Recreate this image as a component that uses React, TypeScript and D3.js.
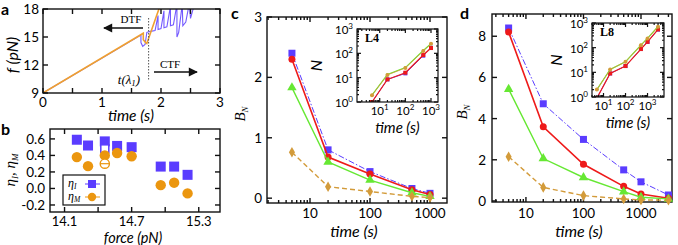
import * as d3 from "d3";

const SANS = "Lato, 'Open Sans', sans-serif";
const SERIF = "'Liberation Serif', 'DejaVu Serif', serif";
const BLUE = "#5a3cff";
const RED = "#ee1a1a";
const GREEN = "#66e833";
const GOLD = "#d39b3a";
const ORANGE = "#eb960f";

// panel a: force ramps
const orangeTime = [0, 1.7, 1.7, 1.74, 1.76, 2.02];
const orangeForce = [9, 15.4, 14.7, 14.4, 14.3, 19];
const blueTime = [0, 1.66, 1.66, 1.69, 1.73, 1.76, 1.82, 1.9, 1.95, 1.95, 2.0, 2.05, 2.05, 2.1, 2.16, 2.16, 2.21, 2.27, 2.27, 2.3, 2.36, 2.37, 2.42, 2.48, 2.5, 2.58];
const blueForce = [9, 15.2, 14.4, 14.0, 14.2, 15.5, 15.6, 15.7, 17.3, 15.8, 15.9, 17.8, 16.0, 16.1, 18.3, 16.2, 16.3, 18.5, 15.0, 15.5, 18.5, 16.2, 16.6, 18.6, 17.0, 18.8];

// panel b: efficiencies vs force
const bForce = [14.21, 14.31, 14.46, 14.57, 14.7, 14.96, 15.08, 15.2];
const etaI = [0.59, 0.52, 0.57, 0.515, 0.5, 0.265, 0.265, 0.165];
const etaM = [0.38, 0.27, 0.4, 0.43, 0.39, 0.04, 0.07, -0.06];
const openForce = [14.46];
const openEtaI = [0.48];
const openEtaM = [0.3];

// panel c (L4)
const cTimes = [5, 20, 100, 500, 1000];
const cBlue = [2.4, 0.8, 0.44, 0.16, 0.08];
const cRed = [2.3, 0.68, 0.4, 0.14, 0.06];
const cGreen = [1.83, 0.6, 0.3, 0.09, 0.03];
const cGold = [0.76, 0.19, 0.11, 0.03, 0.01];
const ciBlue = [1, 8.5, 15, 80, 170];
const ciRed = [1, 8.5, 16, 85, 165];
const ciGreen = [1.9, 13.5, 26, 130, 250];
const ciGold = [1.9, 13, 25, 125, 245];

// panel d (L8)
const dTimes = [5, 20, 100, 500, 1000, 3000];
const dBlue = [8.4, 4.72, 2.99, 1.51, 0.93, 0.29];
const dRed = [8.2, 3.6, 1.78, 0.71, 0.34, 0.13];
const dGreen = [5.43, 2.06, 1.14, 0.45, 0.18, 0.1];
const dGold = [2.15, 0.66, 0.26, 0.1, 0.05, 0.04];
const diBlue = [0.9, 9, 18, 88, 170, 540];
const diRed = [0.9, 9, 18, 88, 173, 550];
const diGreen = [2, 13, 27, 127, 240, 720];
const diGold = [2, 13, 27, 125, 237, 710];

type Tk = { v: number; major: boolean };

function logTicks(dom: number[]): Tk[] {
  const out: Tk[] = [];
  for (let e = Math.floor(Math.log10(dom[0])); e <= Math.ceil(Math.log10(dom[1])); e++)
    for (let m = 1; m <= 9; m++) {
      const v = m * 10 ** e;
      if (v >= dom[0] && v <= dom[1]) out.push({ v, major: m === 1 });
    }
  return out;
}

function linTicks(vals: number[]): Tk[] {
  return vals.map((v) => ({ v, major: true }));
}

function Frame({ sx, sy, xt, yt, maj = 5, min = 3, sw = 1.4 }: any) {
  const [l, r] = sx.range();
  const [b, t] = sy.range();
  return (
    <g stroke="#111" strokeWidth={sw} fill="none">
      {xt.map((d: Tk, i: number) => {
        const x = sx(d.v);
        const len = d.major ? maj : min;
        return (
          <g key={"x" + i}>
            <line x1={x} x2={x} y1={b} y2={b - len} />
            <line x1={x} x2={x} y1={t} y2={t + len} />
          </g>
        );
      })}
      {yt.map((d: Tk, i: number) => {
        const y = sy(d.v);
        const len = d.major ? maj : min;
        return (
          <g key={"y" + i}>
            <line x1={l} x2={l + len} y1={y} y2={y} />
            <line x1={r} x2={r - len} y1={y} y2={y} />
          </g>
        );
      })}
      <rect x={l} y={t} width={r - l} height={b - t} />
    </g>
  );
}

function Pow({ x, y, e, anchor = "middle", fs = 11.5 }: any) {
  return (
    <text x={x} y={y} textAnchor={anchor} fontSize={fs} fontFamily={SANS}>
      10<tspan dy={-5} fontSize={fs * 0.7}>{e}</tspan>
    </text>
  );
}

function Marker({ kind, x, y, color, s }: any) {
  if (kind === "square")
    return <rect x={x - s / 2} y={y - s / 2} width={s} height={s} fill={color} />;
  if (kind === "circle") return <circle cx={x} cy={y} r={s / 2} fill={color} />;
  const sym = kind === "triangle" ? d3.symbolTriangle : d3.symbolDiamond;
  const area = kind === "triangle" ? s * s * 0.6 : s * s * 0.5;
  return <path d={d3.symbol(sym, area)() as string} transform={`translate(${x},${y})`} fill={color} />;
}

function Series({ sx, sy, xs, ys, color, kind, s, width = 1.4, dash, clip }: any) {
  const line = d3.line<number>().x((_, i) => sx(xs[i])).y((v) => sy(v));
  return (
    <g clipPath={clip}>
      <path d={line(ys) as string} fill="none" stroke={color} strokeWidth={width} strokeDasharray={dash} />
      {ys.map((v: number, i: number) => (
        <Marker key={i} kind={kind} x={sx(xs[i])} y={sy(v)} color={color} s={s} />
      ))}
    </g>
  );
}

function PanelA() {
  const sx = d3.scaleLinear().domain([0, 3]).range([43, 220]);
  const sy = d3.scaleLinear().domain([9, 18]).range([93, 9]);
  const orange = d3.line<number>().x((_, i) => sx(orangeTime[i])).y((v) => sy(v))(orangeForce);
  const blue = d3.line<number>().x((_, i) => sx(blueTime[i])).y((v) => sy(v))(blueForce);
  const xt = linTicks([0, 0.5, 1, 1.5, 2, 2.5, 3]);
  const yt = linTicks([9, 12, 15, 18]);
  return (
    <g>
      <defs>
        <clipPath id="clipA">
          <rect x={43} y={9} width={177} height={84} />
        </clipPath>
        <marker id="arr" viewBox="0 0 10 10" refX="9" refY="5" markerWidth="9" markerHeight="7" orient="auto-start-reverse">
          <path d="M0,0 L10,5 L0,10 z" fill="#111" />
        </marker>
      </defs>
      <g clipPath="url(#clipA)">
        <path d={blue as string} fill="none" stroke={BLUE} strokeWidth={1.1} opacity={0.85} />
        <path d={orange as string} fill="none" stroke="#f0a030" strokeWidth={1.6} />
      </g>
      <line x1={sx(1.79)} x2={sx(1.79)} y1={18} y2={80} stroke="#555" strokeWidth={1} strokeDasharray="1.5,1.5" />
      <line x1={143} x2={104} y1={28} y2={28} stroke="#111" strokeWidth={1.3} markerEnd="url(#arr)" />
      <text x={131} y={23} fontSize={11} fontFamily={SERIF} textAnchor="middle">DTF</text>
      <line x1={154} x2={197} y1={72} y2={72} stroke="#111" strokeWidth={1.3} markerEnd="url(#arr)" />
      <text x={160} y={68} fontSize={11} fontFamily={SERIF}>CTF</text>
      <text x={129} y={84} fontSize={13} fontFamily={SERIF} fontStyle="italic" textAnchor="middle">
        t(λ<tspan dy={2} fontSize={9}>1</tspan><tspan dy={-2}>)</tspan>
      </text>
      <Frame sx={sx} sy={sy} xt={xt} yt={yt} />
      {[0, 1, 2, 3].map((v) => (
        <text key={v} x={sx(v)} y={107} fontSize={13.5} textAnchor="middle" fontFamily={SANS}>{v}</text>
      ))}
      {[9, 12, 15, 18].map((v) => (
        <text key={v} x={39} y={sy(v) + 5} fontSize={13.5} textAnchor="end" fontFamily={SANS}>{v}</text>
      ))}
      <text x={131} y={121} fontSize={15.5} fontStyle="italic" textAnchor="middle" fontFamily={SANS}>time (s)</text>
      <text transform="translate(18,55) rotate(-90)" fontSize={16} fontStyle="italic" textAnchor="middle" fontFamily={SANS}>f (pN)</text>
      <text x={1} y={15} fontSize={16} fontWeight="bold" fontFamily={SANS}>a</text>
    </g>
  );
}

function PanelB() {
  const sx = d3.scaleLinear().domain([13.97, 15.49]).range([50, 220]);
  const sy = d3.scaleLinear().domain([-0.285, 0.72]).range([212, 129]);
  const xt = linTicks([14.1, 14.4, 14.7, 15.0, 15.3]);
  const yt = linTicks([-0.2, 0, 0.2, 0.4, 0.6]);
  const sq = 10;
  return (
    <g>
      <Frame sx={sx} sy={sy} xt={xt} yt={yt} />
      {bForce.map((f, i) => (
        <g key={i}>
          <line x1={sx(f - 0.035)} x2={sx(f + 0.035)} y1={sy(etaI[i])} y2={sy(etaI[i])} stroke={BLUE} strokeWidth={1} />
          <rect x={sx(f) - sq / 2} y={sy(etaI[i]) - sq / 2} width={sq} height={sq} fill={BLUE} />
        </g>
      ))}
      {openForce.map((f, i) => (
        <rect key={i} x={sx(f) - sq / 2 + 1} y={sy(openEtaI[i]) - sq / 2 + 1} width={sq - 2} height={sq - 2} fill="#fff" stroke={BLUE} strokeWidth={1.5} />
      ))}
      {bForce.map((f, i) => (
        <circle key={i} cx={sx(f)} cy={sy(etaM[i])} r={5.2} fill={ORANGE} />
      ))}
      {openForce.map((f, i) => (
        <g key={i}>
          <circle cx={sx(f)} cy={sy(openEtaM[i])} r={4.6} fill="#fff" stroke={ORANGE} strokeWidth={1.4} />
          <line x1={sx(f) - 4.6} x2={sx(f) + 4.6} y1={sy(openEtaM[i])} y2={sy(openEtaM[i])} stroke={ORANGE} strokeWidth={1.2} />
        </g>
      ))}
      <rect x={63} y={175} width={42} height={30} fill="#fff" stroke="#111" strokeWidth={1.2} />
      <text x={68} y={187} fontSize={12} fontStyle="italic" fontFamily={SERIF}>η<tspan dy={2} fontSize={7.5}>I</tspan></text>
      <line x1={85} x2={100} y1={184} y2={184} stroke={BLUE} strokeWidth={1} />
      <rect x={88} y={180} width={8} height={8} fill={BLUE} />
      <text x={68} y={200} fontSize={12} fontStyle="italic" fontFamily={SERIF}>η<tspan dy={2} fontSize={7.5}>M</tspan></text>
      <line x1={85} x2={100} y1={197} y2={197} stroke={ORANGE} strokeWidth={1} />
      <circle cx={92} cy={197} r={4.2} fill={ORANGE} />
      {[14.1, 14.7, 15.3].map((v) => (
        <text key={v} x={sx(v)} y={226} fontSize={13} textAnchor="middle" fontFamily={SANS}>{v.toFixed(1)}</text>
      ))}
      {[-0.2, 0, 0.2, 0.4, 0.6].map((v) => (
        <text key={v} x={45} y={sy(v) + 5} fontSize={13.5} textAnchor="end" fontFamily={SANS}>{v.toFixed(1)}</text>
      ))}
      <text x={133} y={243} fontSize={14.5} fontStyle="italic" textAnchor="middle" fontFamily={SANS}>force (pN)</text>
      <text transform="translate(15,170) rotate(-90)" fontSize={15} fontStyle="italic" textAnchor="middle" fontFamily={SERIF}>
        η<tspan dy={3} fontSize={9}>I</tspan><tspan dy={-3}>, η</tspan><tspan dy={3} fontSize={9}>M</tspan>
      </text>
      <text x={1} y={135} fontSize={16} fontWeight="bold" fontFamily={SANS}>b</text>
    </g>
  );
}

function Inset({ id, box, xDom, times, blue, red, green, gold, name, tickY }: any) {
  const sx = d3.scaleLog().domain(xDom).range([box.l, box.r]);
  const sy = d3.scaleLog().domain([1, 1000]).range([box.b, box.t]);
  const clip = `url(#${id})`;
  return (
    <g>
      <defs>
        <clipPath id={id}>
          <rect x={box.l} y={box.t} width={box.r - box.l} height={box.b - box.t} />
        </clipPath>
      </defs>
      <rect x={box.l} y={box.t} width={box.r - box.l} height={box.b - box.t} fill="#fff" />
      <Series sx={sx} sy={sy} xs={times} ys={blue} color={BLUE} kind="square" s={4} width={1} clip={clip} />
      <Series sx={sx} sy={sy} xs={times} ys={red} color={RED} kind="square" s={4} width={1.2} clip={clip} />
      <Series sx={sx} sy={sy} xs={times} ys={green} color={GREEN} kind="circle" s={3} width={1.2} clip={clip} />
      <Series sx={sx} sy={sy} xs={times} ys={gold} color={GOLD} kind="circle" s={4} width={0.8} clip={clip} />
      <Frame sx={sx} sy={sy} xt={logTicks(xDom)} yt={logTicks([1, 1000])} maj={4} min={2} sw={1.2} />
      {[10, 100, 1000].map((v, i) => (
        <Pow key={v} x={sx(v)} y={box.b + 13} e={i + 1} />
      ))}
      {[1, 10, 100, 1000].map((v, i) => (
        <Pow key={v} x={box.l - 4} y={sy(v) + 5} e={i} anchor="end" />
      ))}
      <text x={(box.l + box.r) / 2} y={box.b + 31} fontSize={15} fontStyle="italic" textAnchor="middle" fontFamily={SANS}>time (s)</text>
      <text transform={`translate(${tickY},${(box.t + box.b) / 2}) rotate(-90)`} fontSize={16} fontStyle="italic" textAnchor="middle" fontFamily={SANS}>N</text>
      <text x={box.l + 8} y={box.t + 13} fontSize={12} fontWeight="bold" fontFamily={SERIF}>{name}</text>
    </g>
  );
}

function MainPanel({ xDom, yDom, box, times, blue, red, green, gold, yTickVals, label, labelX, yLabelX, tickX }: any) {
  const sx = d3.scaleLog().domain(xDom).range([box.l, box.r]);
  const sy = d3.scaleLinear().domain(yDom).range([box.b, box.t]);
  return (
    <g>
      <Frame sx={sx} sy={sy} xt={logTicks(xDom)} yt={linTicks(yTickVals)} maj={5} min={3} />
      <Series sx={sx} sy={sy} xs={times} ys={blue} color={BLUE} kind="square" s={7} width={1} dash="6,2,1.5,2" />
      <Series sx={sx} sy={sy} xs={times} ys={red} color={RED} kind="circle" s={7} width={1.6} />
      <Series sx={sx} sy={sy} xs={times} ys={green} color={GREEN} kind="triangle" s={8} width={1.4} />
      <Series sx={sx} sy={sy} xs={times} ys={gold} color={GOLD} kind="diamond" s={8} width={1.4} dash="5,3" />
      {[10, 100, 1000].map((v) => (
        <text key={v} x={sx(v)} y={218} fontSize={13.5} textAnchor="middle" fontFamily={SANS}>{v}</text>
      ))}
      {yTickVals.map((v: number) => (
        <text key={v} x={tickX} y={sy(v) + 5} fontSize={13.5} textAnchor="end" fontFamily={SANS}>{v}</text>
      ))}
      <text x={(box.l + box.r) / 2 - 3} y={237} fontSize={16} fontStyle="italic" textAnchor="middle" fontFamily={SANS}>time (s)</text>
      <text transform={`translate(${yLabelX},${(box.t + box.b) / 2 + 4}) rotate(-90)`} fontSize={15} fontStyle="italic" textAnchor="middle" fontFamily={SERIF}>
        B<tspan dy={3} fontSize={9}>N</tspan>
      </text>
      <text x={labelX} y={19} fontSize={16} fontWeight="bold" fontFamily={SANS}>{label}</text>
    </g>
  );
}

export default function App() {
  return (
    <svg width={678} height={245} style={{ position: "absolute", left: 0, top: 0, background: "#fff" }}>
      <PanelA />
      <PanelB />
      <MainPanel
        xDom={[1.92, 1920]}
        yDom={[-0.08, 3]}
        box={{ l: 267, r: 447, t: 17, b: 203 }}
        times={cTimes}
        blue={cBlue}
        red={cRed}
        green={cGreen}
        gold={cGold}
        yTickVals={[0, 1, 2, 3]}
        label="c"
        labelX={231}
        yLabelX={245}
        tickX={262}
      />
      <Inset
        id="insC"
        box={{ l: 357, r: 438, t: 29, b: 102 }}
        xDom={[1.3, 1875]}
        times={cTimes}
        blue={ciBlue}
        red={ciRed}
        green={ciGreen}
        gold={ciGold}
        name="L4"
        tickY={322}
      />
      <MainPanel
        xDom={[2.57, 3460]}
        yDom={[-0.05, 9.08]}
        box={{ l: 492, r: 672, t: 14, b: 202 }}
        times={dTimes}
        blue={dBlue}
        red={dRed}
        green={dGreen}
        gold={dGold}
        yTickVals={[0, 2, 4, 6, 8]}
        label="d"
        labelX={460}
        yLabelX={467}
        tickX={486}
      />
      <Inset
        id="insD"
        box={{ l: 592, r: 664, t: 23, b: 97 }}
        xDom={[3.0, 5600]}
        times={dTimes}
        blue={diBlue}
        red={diRed}
        green={diGreen}
        gold={diGold}
        name="L8"
        tickY={562}
      />
    </svg>
  );
}
